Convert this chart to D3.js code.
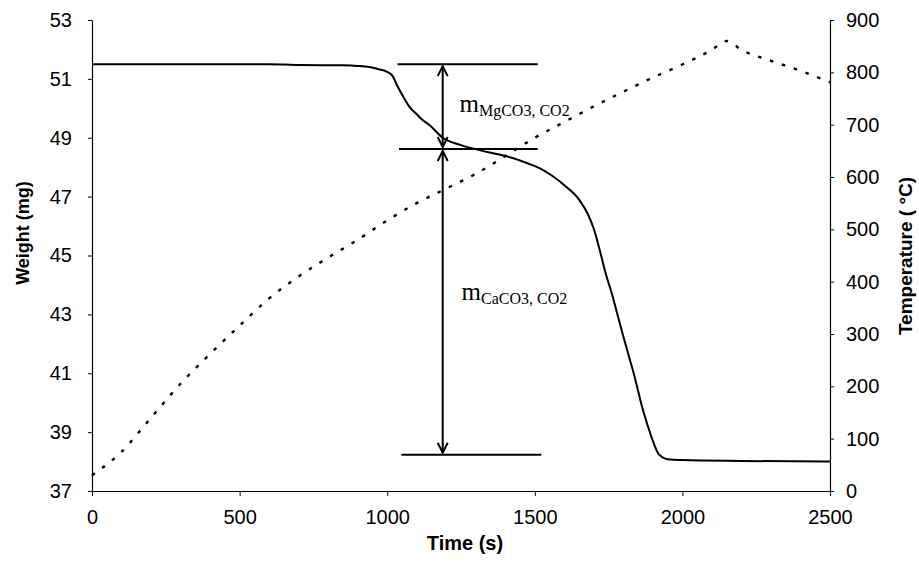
<!DOCTYPE html>
<html>
<head>
<meta charset="utf-8">
<script src="https://cdn.jsdelivr.net/npm/d3@7"></script>
<style>
  html, body { margin: 0; padding: 0; background: #fff; }
  svg { display: block; }
</style>
</head>
<body>
<svg id="chart" width="919" height="582"></svg>
<script>
// ---- data ----
const weightTime = [0, 300, 600, 700, 850, 900, 940, 970, 998, 1018, 1035, 1060, 1076, 1100, 1120, 1143, 1188, 1250, 1313, 1370, 1425, 1470, 1516, 1560, 1607, 1650, 1680, 1700, 1717, 1740, 1764, 1781, 1800, 1818, 1835, 1850, 1865, 1880, 1900, 1920, 1950, 2000, 2200, 2500];
const weightMg   = [51.5, 51.5, 51.5, 51.47, 51.46, 51.44, 51.4, 51.33, 51.25, 51.1, 50.75, 50.3, 50.04, 49.8, 49.6, 49.43, 49.0, 48.75, 48.58, 48.45, 48.31, 48.15, 47.97, 47.7, 47.33, 46.9, 46.4, 45.9, 45.3, 44.4, 43.6, 42.95, 42.25, 41.6, 41.0, 40.4, 39.8, 39.3, 38.7, 38.25, 38.08, 38.05, 38.02, 38.0];

const tempTime = [0, 100, 200, 300, 400, 500, 600, 700, 800, 900, 1000, 1100, 1200, 1300, 1400, 1500, 1600, 1700, 1800, 1900, 2000, 2100, 2150, 2200, 2300, 2400, 2500];
const tempC    = [30, 75, 140, 205, 262, 316, 368, 410, 446, 480, 517, 550, 578, 606, 640, 675, 705, 735, 763, 790, 815, 843, 860, 843, 822, 803, 781];

const xTicks = [0, 500, 1000, 1500, 2000, 2500];
const yLeftTicks = [37, 39, 41, 43, 45, 47, 49, 51, 53];
const yRightTicks = [0, 100, 200, 300, 400, 500, 600, 700, 800, 900];

// annotation levels (mg) and time extents
const levelMg    = [51.5, 48.62, 38.23];
const levelStart = [1035, 1040, 1048];
const levelEnd   = [1510, 1510, 1522];
const arrowTime  = 1188;
const labelMain  = ["m", "m"];
const labelSub   = ["MgCO3, CO2", "CaCO3, CO2"];
const labelTime  = [1245, 1252];
const labelMg    = [49.87, 43.49];

const xTitle = "Time (s)";
const yLeftTitle = "Weight (mg)";
const yRightTitle = "Temperature ( \u00B0C)";

// ---- layout ----
const svg = d3.select("#chart");
const L = 92, R = 830, T = 20, B = 491;

const x = d3.scaleLinear().domain([0, 2500]).range([L, R]);
const yL = d3.scaleLinear().domain([37, 53]).range([B, T]);
const yR = d3.scaleLinear().domain([0, 900]).range([B, T]);

const tickFont = "'Liberation Sans', Arial, sans-serif";

// axes
const axB = svg.append("g").attr("transform", `translate(0,${B})`)
  .call(d3.axisBottom(x).tickValues(xTicks).tickSize(5).tickPadding(14).tickSizeOuter(0).tickFormat(d3.format("d")));
const axL = svg.append("g").attr("transform", `translate(${L},0)`)
  .call(d3.axisLeft(yL).tickValues(yLeftTicks).tickSize(4).tickPadding(16).tickSizeOuter(0).tickFormat(d3.format("d")));
const axR = svg.append("g").attr("transform", `translate(${R},0)`)
  .call(d3.axisRight(yR).tickValues(yRightTicks).tickSize(4).tickPadding(12).tickSizeOuter(0).tickFormat(d3.format("d")));

[axB, axL, axR].forEach(g => {
  g.select(".domain").attr("stroke", "#000").attr("stroke-width", 1.2);
  g.selectAll(".tick line").attr("stroke", "#000").attr("stroke-width", 1);
  g.selectAll(".tick text").attr("fill", "#000").attr("font-family", tickFont).attr("font-size", 20);
});

// axis titles
svg.append("text").attr("x", (L + R) / 2 + 4).attr("y", 550)
  .attr("text-anchor", "middle").attr("font-family", tickFont).attr("font-weight", "bold")
  .attr("font-size", 20).attr("fill", "#000").text(xTitle);
svg.append("text").attr("transform", "translate(29,233) rotate(-90)")
  .attr("text-anchor", "middle").attr("font-family", tickFont).attr("font-weight", "bold")
  .attr("font-size", 18).attr("fill", "#000").text(yLeftTitle);
svg.append("text").attr("transform", "translate(912,256) rotate(-90)")
  .attr("text-anchor", "middle").attr("font-family", tickFont).attr("font-weight", "bold")
  .attr("font-size", 19).attr("fill", "#000").text(yRightTitle);

// temperature dotted line
const tempData = tempTime.map((t, i) => [t, tempC[i]]);
svg.append("path").datum(tempData)
  .attr("fill", "none").attr("stroke", "#000").attr("stroke-width", 2.4)
  .attr("stroke-dasharray", "3.5,9")
  .attr("d", d3.line().x(d => x(d[0])).y(d => yR(d[1])).curve(d3.curveMonotoneX));

// weight line
const wData = weightTime.map((t, i) => [t, weightMg[i]]);
svg.append("path").datum(wData)
  .attr("fill", "none").attr("stroke", "#000").attr("stroke-width", 2)
  .attr("stroke-linejoin", "round")
  .attr("d", d3.line().x(d => x(d[0])).y(d => yL(d[1])).curve(d3.curveMonotoneX));

// annotation horizontal lines
levelMg.forEach((m, i) => {
  svg.append("line")
    .attr("x1", x(levelStart[i])).attr("x2", x(levelEnd[i]))
    .attr("y1", yL(m)).attr("y2", yL(m))
    .attr("stroke", "#000").attr("stroke-width", 2);
});

// double-headed arrows
function arrow(m1, m2) {
  const ax = x(arrowTime), y1 = yL(m1) + 2, y2 = yL(m2) - 2;
  svg.append("line").attr("x1", ax).attr("x2", ax).attr("y1", y1).attr("y2", y2)
    .attr("stroke", "#000").attr("stroke-width", 2);
  const h = 10, w = 5;
  svg.append("path").attr("d", `M${ax - w},${y1 + h} L${ax},${y1} L${ax + w},${y1 + h}`)
    .attr("fill", "none").attr("stroke", "#000").attr("stroke-width", 2);
  svg.append("path").attr("d", `M${ax - w},${y2 - h} L${ax},${y2} L${ax + w},${y2 - h}`)
    .attr("fill", "none").attr("stroke", "#000").attr("stroke-width", 2);
}
arrow(levelMg[0], levelMg[1]);
arrow(levelMg[1], levelMg[2]);

// labels
labelMain.forEach((m, i) => {
  const t = svg.append("text").attr("x", x(labelTime[i])).attr("y", yL(labelMg[i]))
    .attr("font-family", "'Liberation Serif', 'Times New Roman', serif").attr("fill", "#000");
  t.append("tspan").attr("font-size", 25).text(m);
  t.append("tspan").attr("font-size", 16).attr("dy", 4).text(labelSub[i]);
});
</script>
</body>
</html>
